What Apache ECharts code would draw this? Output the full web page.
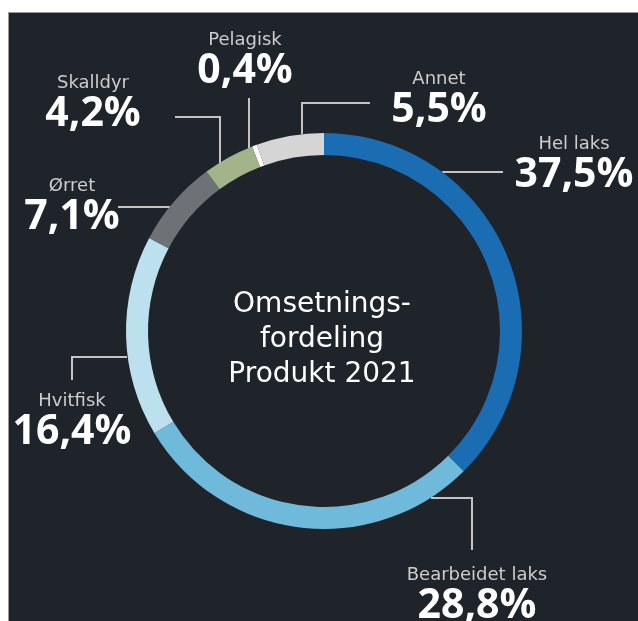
<!DOCTYPE html>
<html>
<head>
<meta charset="utf-8">
<script src="https://cdn.jsdelivr.net/npm/echarts@6/dist/echarts.min.js"></script>
<style>
  html, body { margin: 0; padding: 0; background: #ffffff; }
  #panel { position: absolute; left: 8px; top: 12px; width: 630px; height: 609px;
           background: #1f232a; border-left: 1px solid #9a9a9a; border-top: 1px solid #9a9a9a; }
  #chart { position: absolute; left: 0; top: 0; width: 638px; height: 621px; }
</style>
</head>
<body>
<div id="panel"></div>
<div id="chart"></div>
<script>
// data
const categories = ['Hel laks', 'Bearbeidet laks', 'Hvitfisk', 'Ørret', 'Skalldyr', 'Pelagisk', 'Annet'];
const shares = [37.5, 28.8, 16.4, 7.1, 4.2, 0.4, 5.5];
const centerTitle = 'Omsetnings-\nfordeling\nProdukt 2021';

// styling / label placement
const colors = ['#1a6cb3', '#6fb9db', '#bde0ee', '#6e7176', '#a4b48a', '#ffffff', '#d5d5d5'];
const labelSpots = [
  { x: 574, y: 164, line: [[442, 172], [503, 172], [503, 172]] },
  { x: 477, y: 595, line: [[431, 498], [472, 498], [472, 550]] },
  { x: 72,  y: 421, line: [[127, 357], [72, 357], [72, 380]] },
  { x: 72,  y: 206, line: [[170, 207], [118, 207], [118, 207]] },
  { x: 93,  y: 103, line: [[220, 163], [220, 117], [175, 117]] },
  { x: 245, y: 60,  line: [[249, 148], [249, 98], [249, 98]] },
  { x: 439, y: 99,  line: [[302, 134], [302, 103], [370, 103]] }
];

const chart = echarts.init(document.getElementById('chart'), null, { renderer: 'canvas' });

const pieData = categories.map((name, i) => ({
  name: name,
  value: shares[i],
  itemStyle: { color: colors[i] }
}));

chart.setOption({
  backgroundColor: 'transparent',
  animation: false,
  graphic: [{
    type: 'text',
    style: {
      text: centerTitle,
      x: 322,
      y: 340,
      align: 'center',
      verticalAlign: 'middle',
      fill: '#ffffff',
      font: '28px "DejaVu Sans"',
      lineHeight: 35
    }
  }],
  series: [{
    type: 'pie',
    center: [324, 331],
    radius: [176, 198],
    startAngle: 90,
    clockwise: true,
    silent: true,
    avoidLabelOverlap: false,
    data: pieData,
    label: {
      show: true,
      position: 'outside',
      formatter: p => '{n|' + p.name + '}\n{v|' + p.value.toFixed(1).replace('.', ',') + '%}',
      rich: {
        n: { fontFamily: 'DejaVu Sans', fontSize: 18, color: '#cdcdcd', lineHeight: 22, align: 'center' },
        v: { fontFamily: 'Open Sans', fontWeight: 'bold', fontSize: 41, color: '#ffffff', lineHeight: 40, align: 'center' }
      }
    },
    labelLine: {
      show: true,
      lineStyle: { color: '#c4c4c4', width: 2 }
    },
    labelLayout: function (params) {
      const s = labelSpots[params.dataIndex];
      return {
        x: s.x,
        y: s.y,
        align: 'center',
        verticalAlign: 'middle',
        labelLinePoints: s.line
      };
    }
  }]
});
</script>
</body>
</html>
